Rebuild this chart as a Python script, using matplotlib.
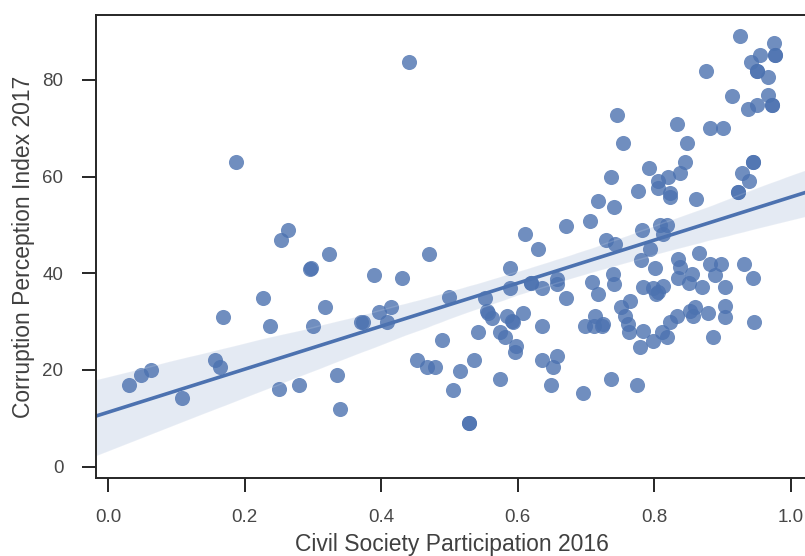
import matplotlib
matplotlib.use("Agg")
import matplotlib.pyplot as plt
import numpy as np
import seaborn as sns

# Civil society participation (2016) vs corruption perception (2017), one entry per country
civil_society_2016 = [
    0.031, 0.049, 0.063, 0.109, 0.156, 0.164, 0.169, 0.187, 0.227, 0.237,
    0.250, 0.253, 0.263, 0.280, 0.296, 0.297, 0.300, 0.318, 0.324, 0.336,
    0.340, 0.370, 0.373, 0.389, 0.397, 0.408, 0.415, 0.430, 0.440, 0.452,
    0.467, 0.470, 0.479, 0.489, 0.499, 0.505, 0.515, 0.528, 0.528, 0.536,
    0.542, 0.552, 0.555, 0.557, 0.562, 0.574, 0.574, 0.581, 0.584, 0.589,
    0.589, 0.591, 0.593, 0.596, 0.598, 0.608, 0.611, 0.620, 0.620, 0.629,
    0.636, 0.635, 0.635, 0.648, 0.652, 0.657, 0.658, 0.657, 0.670, 0.671,
    0.695, 0.698, 0.705, 0.708, 0.711, 0.713, 0.717, 0.718, 0.723, 0.725,
    0.729, 0.736, 0.736, 0.740, 0.741, 0.741, 0.742, 0.745, 0.751, 0.754,
    0.757, 0.762, 0.763, 0.764, 0.774, 0.776, 0.779, 0.782, 0.781, 0.783,
    0.784, 0.792, 0.793, 0.798, 0.798, 0.801, 0.806, 0.803, 0.806, 0.806,
    0.808, 0.811, 0.813, 0.813, 0.818, 0.818, 0.820, 0.823, 0.823, 0.823,
    0.833, 0.833, 0.837, 0.835, 0.835, 0.837, 0.845, 0.847, 0.850, 0.852,
    0.855, 0.857, 0.859, 0.861, 0.866, 0.870, 0.876, 0.879, 0.881, 0.881,
    0.886, 0.889, 0.898, 0.900, 0.903, 0.903, 0.903, 0.913, 0.923, 0.923,
    0.925, 0.928, 0.931, 0.937, 0.939, 0.941, 0.944, 0.944, 0.944, 0.946,
    0.950, 0.950, 0.950, 0.954, 0.966, 0.967, 0.972, 0.972, 0.975, 0.977,
    0.977,
]
corruption_2017 = [
    16.8, 18.9, 19.9, 14.2, 22.1, 20.7, 30.9, 63.0, 34.9, 29.1,
    16.1, 46.8, 49.0, 16.8, 40.9, 41.0, 29.1, 33.1, 44.0, 19.0,
    12.0, 30.0, 30.0, 39.7, 31.9, 30.0, 33.1, 39.1, 83.7, 22.1,
    20.7, 44.0, 20.7, 26.1, 35.0, 15.9, 19.8, 9.0, 9.0, 22.1,
    27.9, 34.9, 32.1, 31.8, 30.7, 27.9, 18.1, 26.9, 31.1, 41.1,
    36.9, 30.2, 30.0, 23.8, 24.9, 31.8, 48.1, 38.0, 38.0, 45.0,
    36.9, 29.1, 22.1, 16.8, 20.7, 22.9, 38.8, 37.8, 49.8, 34.9,
    15.2, 29.1, 50.7, 38.1, 29.1, 31.1, 55.0, 35.7, 29.1, 29.4,
    46.8, 18.1, 60.0, 39.8, 37.8, 53.7, 46.1, 72.7, 33.1, 66.9,
    31.2, 29.4, 27.8, 34.2, 16.8, 56.9, 24.8, 49.0, 42.8, 28.0,
    37.1, 61.7, 45.0, 26.0, 36.9, 41.1, 36.2, 35.6, 59.1, 57.6,
    49.9, 27.8, 37.3, 48.2, 49.9, 26.9, 60.0, 56.6, 55.8, 30.0,
    70.9, 31.1, 41.3, 42.9, 39.0, 60.7, 63.0, 66.9, 38.0, 32.1,
    39.8, 31.1, 33.1, 55.3, 44.2, 37.2, 81.9, 31.8, 70.0, 42.0,
    26.9, 39.7, 42.0, 70.0, 37.1, 33.2, 30.9, 76.7, 56.8, 56.8,
    89.0, 60.8, 42.0, 73.9, 59.0, 83.7, 63.0, 63.0, 39.1, 30.0,
    81.9, 81.9, 74.8, 85.2, 80.6, 76.8, 74.8, 74.8, 87.7, 85.1,
    85.1,
]

x_label = "Civil Society Participation 2016"
y_label = "Corruption Perception Index 2017"
x_ticks = [0.0, 0.2, 0.4, 0.6, 0.8, 1.0]
y_ticks = [0, 20, 40, 60, 80]

sns.set_theme(style="ticks")
plt.rcParams["font.family"] = ["Liberation Sans", "DejaVu Sans"]

W, H, DPI = 805, 556, 100
fig = plt.figure(figsize=(W / DPI, H / DPI), dpi=DPI)

# the right spine sits just past the canvas edge
left_px, right_px = 96, 807
top_px, bottom_px = 15, 478
px_per_unit = 683.0
x_lo = -(108 - left_px) / px_per_unit
x_hi = (right_px - 108) / px_per_unit
ax = fig.add_axes([left_px / W, 1 - bottom_px / H,
                   (right_px - left_px) / W, (bottom_px - top_px) / H])
ylim = (-2.35, 93.4)
ax.set_xlim(x_lo, x_hi)
ax.set_ylim(*ylim)

sns.regplot(x=np.array(civil_society_2016), y=np.array(corruption_2017), ax=ax,
            truncate=False, seed=3, color="#4C72B0",
            scatter_kws=dict(s=118, alpha=0.8, linewidths=0),
            line_kws=dict(lw=2.6))

ax.set_xlim(x_lo, x_hi)
ax.set_ylim(*ylim)
ax.set_xticks(x_ticks)
ax.set_yticks(y_ticks)
ax.set_xticklabels([f"{t:.1f}" for t in x_ticks])
ax.tick_params(axis="both", labelsize=13.5, length=10, width=1.4,
               colors="0.15", labelcolor="0.28")
ax.tick_params(axis="x", pad=12)
ax.tick_params(axis="y", pad=13.5)
for s in ax.spines.values():
    s.set_linewidth(1.4)
    s.set_color("0.15")

aw, ah = right_px - left_px, bottom_px - top_px
ax.set_xlabel(x_label, fontsize=16.5, color="0.25")
ax.set_ylabel(y_label, fontsize=16.5, color="0.25")
ax.xaxis.label.set_va("center")
ax.yaxis.label.set_va("center")
ax.xaxis.set_label_coords(0.5, (bottom_px - 544) / ah)
ax.yaxis.set_label_coords((24 - left_px) / aw, 0.5)

fig.savefig("out.png", dpi=DPI)
